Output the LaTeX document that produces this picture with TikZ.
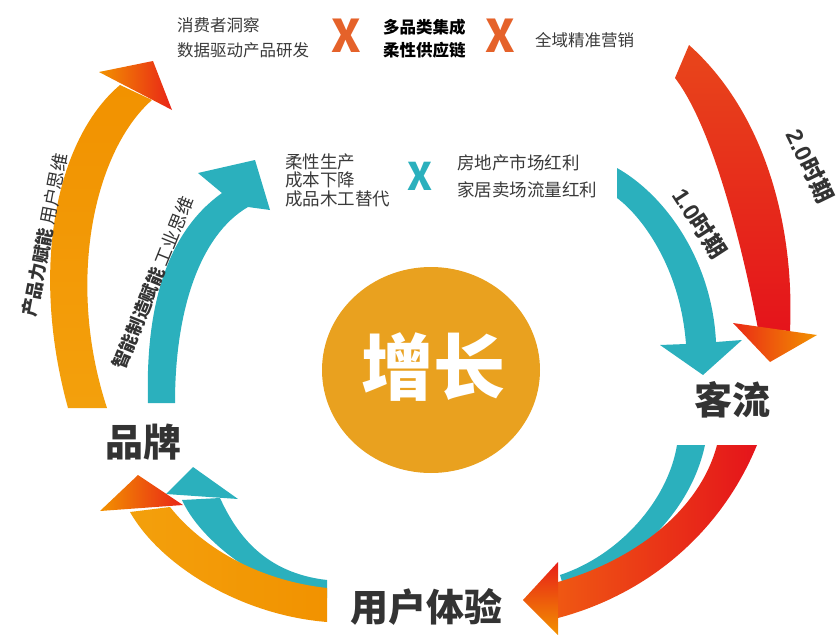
\documentclass[tikz,border=0pt]{standalone}
\usepackage{fontspec}
\setmainfont{Noto Sans CJK SC}
\newfontfamily\latinf{Liberation Sans}
\usetikzlibrary{shapes.geometric}
\definecolor{cteal}{HTML}{2BB0BD}
\definecolor{corange}{HTML}{F3A00C}
\definecolor{corange2}{HTML}{F29200}
\definecolor{cred}{HTML}{E5141B}
\definecolor{credor}{HTML}{E8461B}
\definecolor{ccircle}{HTML}{E9A11F}
\definecolor{cxor}{HTML}{E5622A}
\definecolor{ctext}{HTML}{3A3A3A}
\definecolor{cdark}{HTML}{333333}
\begin{document}
\begin{tikzpicture}[x=1pt,y=-1pt,
  txt/.style={inner sep=0pt, text=ctext, align=left, anchor=west},
  big/.style={inner sep=0pt, text=cdark, font=\fontsize{38}{40}\selectfont\bfseries},
  rot/.style={inner sep=0pt, text=cdark, font=\fontsize{18}{20}\selectfont},
  per/.style={inner sep=0pt, text=cdark, font=\fontsize{23}{25}\selectfont\bfseries},
  xmark/.style={inner sep=0pt, font=\fontsize{45}{45}\selectfont\bfseries}]
\useasboundingbox (0,0) rectangle (839,635);

% ---- left big orange arrow ----
\shade[top color=corange2, bottom color=corange]
  (68,408) .. controls (30,270) and (55,140) .. (120,85) -- (152,100)
  .. controls (95,150) and (65,280) .. (107,408) -- cycle;
\shade[left color=corange2, right color=cred!85!orange]
  (99,72) -- (153,61) -- (172,110) -- cycle;

% ---- left inner teal arrow ----
\fill[cteal] (148,403) .. controls (145,300) and (170,230) .. (222,193)
  -- (198,173) -- (255,160) -- (270,210) -- (248,207)
  .. controls (200,235) and (175,310) .. (175,403) -- cycle;

% ---- right teal arrow (1.0) ----
\fill[cteal] (617,168) .. controls (665,195) and (712,260) .. (716,342)
  -- (742,340) -- (703,375) -- (660,345) -- (686,344)
  .. controls (680,265) and (640,215) .. (617,198) -- cycle;

% ---- right red arrow (2.0) ----
\shade[top color=credor, bottom color=cred]
  (689,45) .. controls (762,110) and (795,220) .. (790,331) -- (758,329)
  .. controls (745,260) and (715,130) .. (675,78) -- cycle;
\shade[left color=cred!80!orange, right color=corange2]
  (733,323) -- (817,335) -- (770,362) -- cycle;

% ---- bottom right teal + red ----
\fill[cteal] (677,445) -- (705,445) .. controls (690,515) and (630,568) .. (565,592)
  -- (560,575) .. controls (620,555) and (668,500) .. (677,445) -- cycle;
\shade[left color=credor!70!orange, right color=cred]
  (757,445) .. controls (720,535) and (645,595) .. (558,618) -- (558,582)
  .. controls (635,560) and (700,510) .. (717,445) -- cycle;
\shade[top color=cred!90!orange, bottom color=corange2]
  (523,600) -- (558,562) -- (558,635) -- cycle;

% ---- bottom left teal + orange ----
\fill[cteal] (220,498) .. controls (237,535) and (265,573) .. (327,580) -- (327,598)
  .. controls (260,588) and (200,540) .. (182,500) -- cycle;
\fill[cteal] (166,494) -- (193,467) -- (238,499) -- cycle;
\shade[left color=corange, right color=corange2]
  (130,512) .. controls (160,565) and (240,615) .. (327,622) -- (327,588)
  .. controls (255,580) and (200,545) .. (170,507) -- cycle;
\shade[left color=corange2, right color=cred!85!orange]
  (100,511) -- (138,475) -- (183,505) -- cycle;

% ---- centre ----
\node[ellipse, fill=ccircle, minimum width=218pt, minimum height=206pt, inner sep=0pt] (circ) at (431,370) {};
\node[inner sep=0pt, text=white, font=\fontsize{72}{74}\selectfont\bfseries] (grow) at (433,367) {增长};

% ---- top texts ----
\node[txt, font=\fontsize{16.5}{25}\selectfont] (t1) at (177,37.5) {消费者洞察\\数据驱动产品研发};
\node[xmark, text=cxor] (x1) at (346,36) {X};
\node[txt, font=\fontsize{16.5}{23}\selectfont\bfseries, text=black] (t2) at (383,38.5) {多品类集成\\柔性供应链};
\node[xmark, text=cxor] (x2) at (500,36) {X};
\node[txt, font=\fontsize{16.5}{20}\selectfont] (t3) at (535,40) {全域精准营销};

% ---- middle texts ----
\node[txt, font=\fontsize{17.5}{18.5}\selectfont] (m1) at (285,180) {柔性生产\\成本下降\\成品木工替代};
\node[xmark, text=cteal, font=\fontsize{38}{38}\selectfont\bfseries] (x3) at (420,176) {X};
\node[txt, font=\fontsize{17.5}{27}\selectfont] (m2) at (457,176.5) {房地产市场红利\\家居卖场流量红利};

% ---- stage labels ----
\node[big] (kl) at (732,400) {客流};
\node[big] (pp) at (143,442) {品牌};
\node[big] (yh) at (426,607) {用户体验};

% ---- rotated labels ----
\node[rot, rotate=79] (r1) at (45,235) {{\bfseries 产品力赋能} 用户思维};
\node[rot, rotate=68] (r2) at (153,283) {{\bfseries 智能制造赋能} 工业思维};
\node[per, rotate=-57] (p1) at (700,223) {{\latinf\bfseries 1.0}时期};
\node[per, rotate=-64] (p2) at (810,166) {{\latinf\bfseries 2.0}时期};
\end{tikzpicture}
\end{document}
